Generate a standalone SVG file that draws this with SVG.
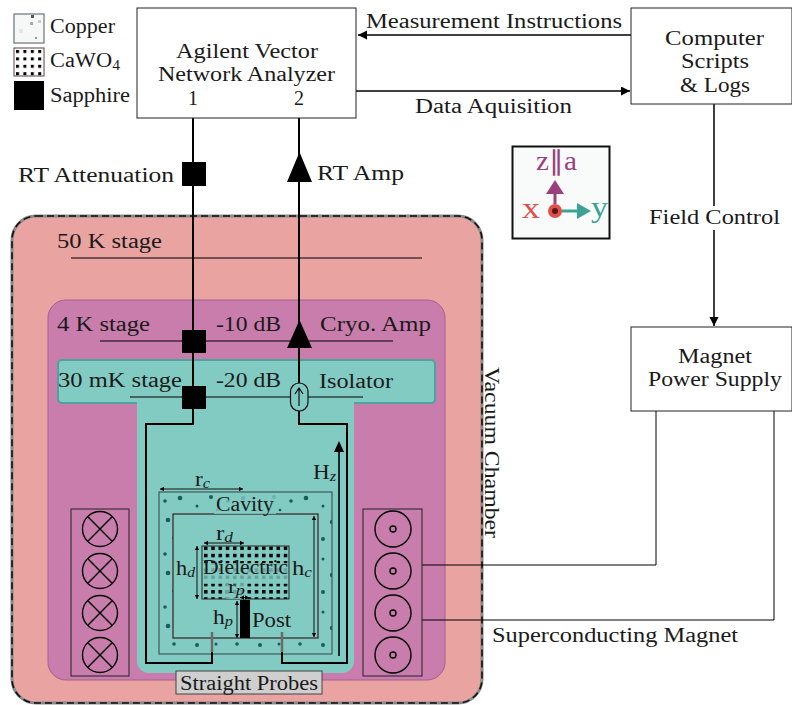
<svg xmlns="http://www.w3.org/2000/svg" width="792" height="705" viewBox="0 0 792 705">
<style>
text{font-family:"Liberation Serif","Times New Roman",serif;font-size:20px;fill:#1a1a1a}
.i{font-style:italic;font-size:14px}
.s{font-size:14px}
.w{fill:none;stroke:#000;stroke-width:2}
.t{fill:none;stroke:#000;stroke-width:1.2}
.b{fill:#fff;stroke:#222;stroke-width:1}
.d{fill:none;stroke:#111;stroke-width:1;marker-start:url(#st);marker-end:url(#en)}
.c{fill:none;stroke:#000;stroke-width:1.4}
.a{fill:none;stroke:#000;stroke-width:1.5;marker-end:url(#ah)}
</style>
<defs>
<filter id="soft" x="-5%" y="-5%" width="110%" height="110%"><feGaussianBlur stdDeviation="0.7"/></filter>
<marker id="ah" markerUnits="userSpaceOnUse" markerWidth="12" markerHeight="10" refX="9" refY="4.500" orient="auto"><path d="M0 0L9 4.500L0 9z" fill="#000"/></marker>
<marker id="en" markerUnits="userSpaceOnUse" markerWidth="6" markerHeight="6" refX="4" refY="3" orient="auto"><path d="M0 .8L4 3L0 5.2z" fill="#000"/></marker>
<marker id="st" markerUnits="userSpaceOnUse" markerWidth="6" markerHeight="6" refX="0" refY="3" orient="auto"><path d="M4 .8L0 3L4 5.2z" fill="#000"/></marker>
<pattern id="dots" width="7.25" height="7.25" patternUnits="userSpaceOnUse" x="204" y="546.500"><rect x="0" y="0" width="3.500" height="3.500" fill="#000"/></pattern>
<pattern id="dotsL" width="7.400" height="7.400" patternUnits="userSpaceOnUse" x="16" y="50"><rect x="0" y="0" width="3" height="3" fill="#000"/></pattern>
<pattern id="cu" width="63" height="53" patternUnits="userSpaceOnUse" x="159" y="492"><g fill="#1f5a58" filter="url(#soft)"><circle cx="6" cy="9" r="1.800"/><circle cx="21" cy="6" r="2.300"/><circle cx="38" cy="14" r="1.500"/><circle cx="52" cy="5" r="2"/><circle cx="9" cy="28" r="2.300"/><circle cx="29" cy="36" r="1.600"/><circle cx="47" cy="30" r="2.200"/><circle cx="57" cy="46" r="1.500"/><circle cx="15" cy="46" r="1.800"/><circle cx="38" cy="47" r="2"/><circle cx="58" cy="18" r="1.300"/></g></pattern>
<pattern id="cu2" width="30" height="29" patternUnits="userSpaceOnUse" x="14" y="14"><rect width="30" height="29" fill="#f6f8f8"/><rect x="17" y="1" width="3" height="3" fill="#555"/><rect x="16" y="8" width="3" height="3" fill="#aaa"/><rect x="24" y="6" width="3" height="3" fill="#ccc"/><rect x="21" y="23" width="2" height="2" fill="#999"/><rect x="5" y="15" width="4" height="4" fill="#e6e6e6"/></pattern>
</defs>

<g id="legend">
<rect x="14" y="14" width="30" height="29" fill="url(#cu2)" stroke="#4a5a5e" stroke-width="1"/>
<text x="50" y="33" textLength="65" lengthAdjust="spacingAndGlyphs">Copper</text>
<rect x="14" y="48" width="30" height="28" fill="#fff"/>
<rect x="14" y="48" width="30" height="28" fill="url(#dotsL)" stroke="#5a4040" stroke-width="1"/>
<text x="50" y="67" textLength="70" lengthAdjust="spacingAndGlyphs">CaWO<tspan class="s" dy="3">4</tspan></text>
<rect x="14" y="81" width="30" height="29" fill="#000"/>
<text x="50" y="102" textLength="80" lengthAdjust="spacingAndGlyphs">Sapphire</text>
</g>

<g id="vacuum-chamber">
<rect x="12" y="216" width="470" height="487" rx="24" fill="#e9a3a0" stroke="#8a8a8a" stroke-width="3"/>
<rect x="12" y="216" width="470" height="487" rx="24" fill="none" stroke="#111" stroke-width="1.600" stroke-dasharray="7 4"/>
<text transform="translate(485 367) rotate(90)" textLength="171" lengthAdjust="spacingAndGlyphs">Vacuum Chamber</text>
<text x="57" y="248" textLength="105" lengthAdjust="spacingAndGlyphs">50 K stage</text>
<path d="M71 258H422" class="t"/>
</g>
<g id="stage-4k">
<rect x="48" y="300" width="397" height="380" rx="18" fill="#c87dac" stroke="#a95c92" stroke-width="1"/>
<text x="57" y="331" textLength="93" lengthAdjust="spacingAndGlyphs">4 K stage</text>
<text x="216" y="331" textLength="65" lengthAdjust="spacingAndGlyphs">-10 dB</text>
<text x="320" y="331" textLength="111" lengthAdjust="spacingAndGlyphs">Cryo. Amp</text>
<path d="M100 341H393" class="t"/>
</g>
<g id="stage-30mk">
<path d="M137 403V661a12 12 0 0 0 12 12H342a12 12 0 0 0 12-12V403z" fill="#82cbc3"/>
<rect x="58" y="360" width="377" height="43" rx="4" fill="#82cbc3" stroke="#4ea39f" stroke-width="2"/>
<path d="M137 402h217v4H137z" fill="#82cbc3"/>
<text x="58" y="387" textLength="124" lengthAdjust="spacingAndGlyphs">30 mK stage</text>
<text x="216" y="387" textLength="65" lengthAdjust="spacingAndGlyphs">-20 dB</text>
<text x="319" y="388" textLength="74" lengthAdjust="spacingAndGlyphs">Isolator</text>
<path d="M130 397H363" class="t"/>
</g>

<g id="cavity">
<rect x="159" y="492" width="173" height="162" fill="url(#cu)" stroke="#3c5a5a" stroke-width="1.200"/>
<rect x="173" y="514" width="145" height="124" fill="#82cbc3" stroke="#3a2020" stroke-width="1.200"/>
<rect x="214" y="495" width="62" height="19" fill="#82cbc3" opacity=".8"/>
<text x="216" y="511" textLength="58" lengthAdjust="spacingAndGlyphs">Cavity</text>
<path d="M160 489H243" class="d"/>
<text x="195" y="486" textLength="15" lengthAdjust="spacingAndGlyphs">r<tspan class="i" dy="2">c</tspan></text>
<path d="M314 516V637" class="d"/>
<text x="292" y="575" textLength="20" lengthAdjust="spacingAndGlyphs">h<tspan class="i" dy="2">c</tspan></text>
</g>
<g id="dielectric">
<rect x="202" y="546" width="87" height="53" fill="url(#dots)" stroke="#222" stroke-width="1"/>
<rect x="203" y="563" width="85" height="21" fill="#82cbc3" opacity=".8"/>
<rect x="226" y="584" width="20" height="15" fill="#82cbc3" opacity=".8"/>
<text x="203" y="574" textLength="85" lengthAdjust="spacingAndGlyphs">Dielectric</text>
<path d="M204 543H244" class="d"/>
<text x="216" y="540" textLength="17" lengthAdjust="spacingAndGlyphs">r<tspan class="i" dy="2">d</tspan></text>
<path d="M197 546V599" class="d"/>
<text x="176" y="575" textLength="19" lengthAdjust="spacingAndGlyphs">h<tspan class="i" dy="2">d</tspan></text>
</g>
<g id="post">
<rect x="240" y="600" width="10" height="38" fill="#000"/>
<text x="252" y="627" textLength="39" lengthAdjust="spacingAndGlyphs">Post</text>
<path d="M240 597.500H249" class="d"/>
<text x="228" y="593" textLength="17" lengthAdjust="spacingAndGlyphs" style="font-size:18px">r<tspan class="i" dy="2">p</tspan></text>
<path d="M237 601V638" class="d"/>
<text x="213" y="624" textLength="20" lengthAdjust="spacingAndGlyphs">h<tspan class="i" dy="2">p</tspan></text>
</g>

<g id="connectors">
<path d="M193 118V424H146V663H212V652" class="w"/>
<path d="M299 118V424H347V663H282V652" class="w"/>
<path d="M212 632V652M282 632V652" fill="none" stroke="#6b6b6b" stroke-width="2.500"/>
<path d="M339 656V443" fill="none" stroke="#000" stroke-width="1.600"/>
<path d="M339 441L344 452H334z" fill="#000"/>
<path d="M631 35H358" class="a"/>
<path d="M356 91H630" class="a"/>
<path d="M714 104V326" class="a"/>
<path d="M422 565H656V411" fill="none" stroke="#000" stroke-width="1"/>
<path d="M422 620H774V411" fill="none" stroke="#000" stroke-width="1"/>
</g>
<text x="313" y="479" textLength="23" lengthAdjust="spacingAndGlyphs">H<tspan class="i" dy="2">z</tspan></text>

<g id="vna">
<rect x="137" y="8" width="219" height="110" class="b"/>
<text x="176" y="58" textLength="142" lengthAdjust="spacingAndGlyphs">Agilent Vector</text>
<text x="158" y="81" textLength="177" lengthAdjust="spacingAndGlyphs">Network Analyzer</text>
<text x="188" y="105">1</text>
<text x="294" y="105">2</text>
</g>
<g id="computer">
<rect x="631" y="8" width="161" height="96" class="b"/>
<text x="665" y="45" textLength="99" lengthAdjust="spacingAndGlyphs">Computer</text>
<text x="681" y="68" textLength="68" lengthAdjust="spacingAndGlyphs">Scripts</text>
<text x="680" y="92" textLength="70" lengthAdjust="spacingAndGlyphs">&amp; Logs</text>
</g>
<g id="magnet-supply">
<rect x="631" y="327" width="161" height="84" class="b"/>
<text x="678" y="363" textLength="74" lengthAdjust="spacingAndGlyphs">Magnet</text>
<text x="648" y="386" textLength="134" lengthAdjust="spacingAndGlyphs">Power Supply</text>
</g>

<text x="366" y="28" textLength="256" lengthAdjust="spacingAndGlyphs">Measurement Instructions</text>
<text x="415" y="113" textLength="157" lengthAdjust="spacingAndGlyphs">Data Aquisition</text>
<rect x="646" y="206" width="137" height="24" fill="#fff"/>
<text x="649" y="224" textLength="131" lengthAdjust="spacingAndGlyphs">Field Control</text>
<text x="492" y="642" textLength="246" lengthAdjust="spacingAndGlyphs">Superconducting Magnet</text>

<g id="rt-attenuator"><rect x="182" y="162" width="24" height="24" fill="#000"/>
<text x="18" y="182" textLength="156" lengthAdjust="spacingAndGlyphs">RT Attenuation</text></g>
<g id="rt-amp"><path d="M299.500 152L312 182H287z" fill="#000"/>
<text x="317" y="180" textLength="87" lengthAdjust="spacingAndGlyphs">RT Amp</text></g>
<g id="attenuator-10"><rect x="182" y="330" width="24" height="23" fill="#000"/></g>
<g id="attenuator-20"><rect x="182" y="386" width="24" height="23" fill="#000"/></g>
<g id="cryo-amp"><path d="M299.500 320L312 348H287z" fill="#000"/></g>
<g id="isolator">
<rect x="290.500" y="383" width="17.500" height="28" rx="8.700" fill="#82cbc3" stroke="#111" stroke-width="1.200"/>
<path d="M299 406V388M295 394L299 388L303 394" fill="none" stroke="#000" stroke-width="1.100"/>
</g>

<g id="axes">
<rect x="512.500" y="146.500" width="97" height="92" fill="#f9fbfa" stroke="#111" stroke-width="2"/>
<path d="M555 204V190" stroke="#9b3f7f" stroke-width="3"/>
<path d="M555 180L564 194H546z" fill="#9b3f7f"/>
<path d="M562 211H578" stroke="#3ba396" stroke-width="3"/>
<path d="M591 211L577 203V219z" fill="#3ba396"/>
<circle cx="555" cy="211" r="7" fill="#e0504a"/><circle cx="555" cy="211" r="3" fill="#5e1418"/>
<text x="536" y="170" textLength="41" lengthAdjust="spacingAndGlyphs" style="fill:#9b3f7f;font-size:27px">z∥a</text>
<text x="522" y="218" style="fill:#e0504a;font-size:29px" textLength="18" lengthAdjust="spacingAndGlyphs">x</text>
<text x="591" y="217" style="fill:#3ba396;font-size:30px" textLength="17" lengthAdjust="spacingAndGlyphs">y</text>
</g>

<g id="coil-left">
<rect x="71" y="509" width="58" height="167" fill="none" stroke="#222" stroke-width="1"/>
<g class="c">
<circle cx="100" cy="529" r="17.500"/><path d="M87.600 516.600L112.400 541.400M112.400 516.600L87.600 541.400"/>
<circle cx="100" cy="571" r="17.500"/><path d="M87.600 558.600L112.400 583.400M112.400 558.600L87.600 583.400"/>
<circle cx="100" cy="613" r="17.500"/><path d="M87.600 600.600L112.400 625.400M112.400 600.600L87.600 625.400"/>
<circle cx="100" cy="655" r="17.500"/><path d="M87.600 642.600L112.400 667.400M112.400 642.600L87.600 667.400"/>
</g>
</g>
<g id="coil-right">
<rect x="363" y="509" width="59" height="167" fill="none" stroke="#222" stroke-width="1"/>
<g class="c">
<circle cx="393" cy="529" r="18"/><circle cx="393" cy="529" r="3"/>
<circle cx="393" cy="571" r="18"/><circle cx="393" cy="571" r="3"/>
<circle cx="393" cy="613" r="18"/><circle cx="393" cy="613" r="3"/>
<circle cx="393" cy="655" r="18"/><circle cx="393" cy="655" r="3"/>
</g>
</g>
<g id="straight-probes">
<rect x="176" y="671" width="146" height="23" fill="#cfcfcf" stroke="#444" stroke-width="1"/>
<text x="180" y="690" textLength="138" lengthAdjust="spacingAndGlyphs">Straight Probes</text>
</g>
</svg>
